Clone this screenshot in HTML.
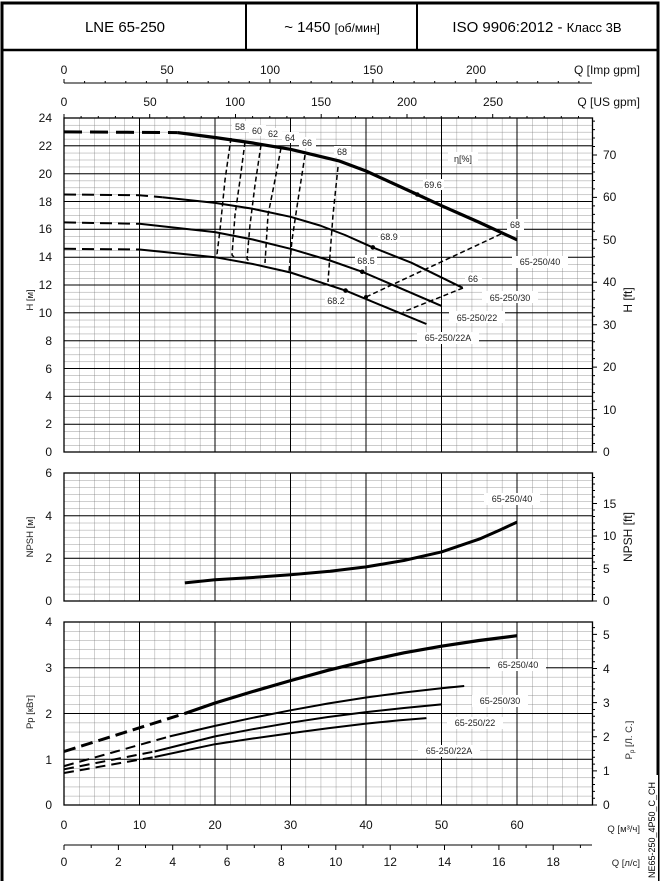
<!DOCTYPE html>
<html><head><meta charset="utf-8"><style>
html,body{margin:0;padding:0;background:#fff}
svg{display:block;font-family:"Liberation Sans",sans-serif}
.t{font-size:12px;fill:#111}
.s{font-size:9.5px;fill:#222}
</style></head><body>
<svg width="662" height="881" viewBox="0 0 662 881" xmlns="http://www.w3.org/2000/svg">
<defs>
<pattern id="gH" x="64" y="118" width="15.1" height="6.958" patternUnits="userSpaceOnUse"><path d="M0,0V6.958M0,0H15.1" stroke="#777" stroke-width="0.7" fill="none"/></pattern>
<pattern id="gN" x="64" y="473" width="15.1" height="7.11" patternUnits="userSpaceOnUse"><path d="M0,0V7.11M0,0H15.1" stroke="#777" stroke-width="0.7" fill="none"/></pattern>
<pattern id="gP" x="64" y="622" width="15.1" height="9.15" patternUnits="userSpaceOnUse"><path d="M0,0V9.15M0,0H15.1" stroke="#777" stroke-width="0.7" fill="none"/></pattern>
</defs>
<path d="M2,881V3H658V881" fill="none" stroke="#000" stroke-width="3"/>
<line x1="2" y1="50" x2="658" y2="50" stroke="#000" stroke-width="2.5"/>
<line x1="246" y1="3" x2="246" y2="50" stroke="#000" stroke-width="2"/>
<line x1="417" y1="3" x2="417" y2="50" stroke="#000" stroke-width="2"/>
<text x="125" y="32" text-anchor="middle" style="font-size:15px">LNE 65-250</text>
<text x="332" y="32" text-anchor="middle" style="font-size:15px">~ 1450 <tspan style="font-size:12px">[об/мин]</tspan></text>
<text x="537" y="32" text-anchor="middle" style="font-size:15px">ISO 9906:2012 - <tspan style="font-size:13px">Класс 3B</tspan></text>

<line x1="64" y1="83" x2="592" y2="83" stroke="#000" stroke-width="1"/>
<g stroke="#000" stroke-width="1">
<path d="M64,83v-4M84.6,83v-2M105.2,83v-2M125.8,83v-2M146.4,83v-2M167,83v-4M187.6,83v-2M208.2,83v-2M228.8,83v-2M249.3,83v-2M269.9,83v-4M290.5,83v-2M311.1,83v-2M331.7,83v-2M352.3,83v-2M372.9,83v-4M393.5,83v-2M414.1,83v-2M434.7,83v-2M455.3,83v-2M475.9,83v-4M496.5,83v-2M517.1,83v-2M537.7,83v-2M558.3,83v-2M578.9,83v-2"/>
<path d="M64,118v-4M81.1,118v-2M98.3,118v-2M115.4,118v-2M132.6,118v-2M149.7,118v-4M166.9,118v-2M184,118v-2M201.2,118v-2M218.3,118v-2M235.5,118v-4M252.6,118v-2M269.8,118v-2M286.9,118v-2M304.1,118v-2M321.2,118v-4M338.4,118v-2M355.5,118v-2M372.7,118v-2M389.8,118v-2M407,118v-4M424.1,118v-2M441.3,118v-2M458.4,118v-2M475.6,118v-2M492.7,118v-4M509.9,118v-2M527,118v-2M544.2,118v-2M561.3,118v-2M578.5,118v-2"/>
</g>
<g class="t" text-anchor="middle">
<text x="64" y="74">0</text><text x="167" y="74">50</text><text x="270" y="74">100</text><text x="373" y="74">150</text><text x="476" y="74">200</text>
<text x="64" y="106">0</text><text x="150" y="106">50</text><text x="235" y="106">100</text><text x="321" y="106">150</text><text x="407" y="106">200</text><text x="493" y="106">250</text>
</g>
<text x="640" y="74" text-anchor="end" class="t">Q [Imp gpm]</text>
<text x="640" y="106" text-anchor="end" class="t">Q [US gpm]</text>

<rect x="64" y="118" width="528.5" height="334" fill="url(#gH)"/>
<g stroke="#000" stroke-width="1">
<path d="M139.5,118V452M215,118V452M290.5,118V452M366,118V452M441.5,118V452M517,118V452"/>
<path d="M64,145.8H592M64,173.7H592M64,201.5H592M64,229.3H592M64,257.2H592M64,285H592M64,312.8H592M64,340.7H592M64,368.5H592M64,396.3H592M64,424.2H592"/>
</g>
<rect x="64" y="118" width="528.5" height="334" fill="none" stroke="#000" stroke-width="1.3"/>
<g class="t" text-anchor="end">
<text x="52" y="122">24</text><text x="52" y="150">22</text><text x="52" y="178">20</text><text x="52" y="206">18</text><text x="52" y="233">16</text><text x="52" y="261">14</text><text x="52" y="289">12</text><text x="52" y="317">10</text><text x="52" y="345">8</text><text x="52" y="373">6</text><text x="52" y="400">4</text><text x="52" y="428">2</text><text x="52" y="456">0</text>
</g>
<g class="t">
<text x="603" y="159">70</text><text x="603" y="201">60</text><text x="603" y="244">50</text><text x="603" y="286">40</text><text x="603" y="329">30</text><text x="603" y="371">20</text><text x="603" y="414">10</text><text x="603" y="456">0</text>
</g>
<g stroke="#000" stroke-width="1"><path d="M592,155h5M592,197.4h5M592,239.8h5M592,282.3h5M592,324.7h5M592,367.1h5M592,409.6h5M592,452h5M592,163.5h3M592,172h3M592,180.5h3M592,188.9h3M592,205.9h3M592,214.4h3M592,222.8h3M592,231.3h3M592,248.3h3M592,256.8h3M592,265.3h3M592,273.8h3M592,290.7h3M592,299.2h3M592,307.7h3M592,316.2h3M592,333.2h3M592,341.7h3M592,350.1h3M592,358.6h3M592,375.6h3M592,384.1h3M592,392.6h3M592,401.1h3M592,418.1h3M592,426.5h3M592,435h3M592,443.5h3M592,146.5h3M592,138h3M592,129.6h3M592,121.1h3"/></g>
<text transform="translate(33,300) rotate(-90)" text-anchor="middle" class="s">H [м]</text>
<text transform="translate(632,300) rotate(-90)" text-anchor="middle" class="t">H [ft]</text>

<g fill="none" stroke="#000" stroke-linecap="butt">
<path d="M64,131.9L177.3,132.6" stroke-width="3" stroke-dasharray="18,8"/>
<path d="M177.3,132.6L215,137.5L252.8,143L290.5,149.3L339.6,161.1L366,171L417.3,194.5L441.5,205.7L479.3,222.4L517,239.8" stroke-width="3.2" stroke-linejoin="round"/>
<path d="M64,194.5L139.5,195.2L162.2,197.3" stroke-width="2" stroke-dasharray="12,6"/>
<path d="M162.2,197.3L215,202.9L252.8,208.8L290.5,216.8L320,225.5L345,235L372.8,247.4L411.3,262.7L462.6,287.8" stroke-width="2" stroke-linejoin="round"/>
<path d="M64,222.4L139.5,223.8" stroke-width="2" stroke-dasharray="12,6"/>
<path d="M139.5,223.8L215,232.1L252.8,239.5L290.5,248.8L330,260.5L362.2,271.8L441.5,305.9" stroke-width="2" stroke-linejoin="round"/>
<path d="M64,248.8L139.5,249.5" stroke-width="2" stroke-dasharray="12,6"/>
<path d="M139.5,249.5L215,257.2L252.8,264L290.5,272.5L345.6,290.6L426.4,324" stroke-width="2" stroke-linejoin="round"/>
</g>
<g fill="#000"><circle cx="417.3" cy="194.5" r="2.3"/><circle cx="372.8" cy="247.4" r="2.3"/><circle cx="362.2" cy="271.8" r="2.3"/><circle cx="345.6" cy="290.6" r="2.3"/><circle cx="366" cy="297" r="2"/></g>
<g fill="none" stroke="#000" stroke-width="1.5" stroke-dasharray="5,3">
<path d="M231,138L225,180L220,230L217,254L219,256"/>
<path d="M245,142L240,180L235,215L232,255L234,257"/>
<path d="M261,145L255,185L250,225L247,259L249,261"/>
<path d="M281,148L274,185L268,215L265,263"/>
<path d="M305,155L298,200L292,240L289,272"/>
<path d="M338,167L333,215L330,255L328,282"/>
<path d="M501,234L366,297"/>
<path d="M463,288L403,312"/>
</g>
<g class="s" text-anchor="middle" style="font-size:9px">
<rect x="232" y="121" width="17" height="11" fill="#fff"/><text x="240" y="130">58</text>
<rect x="249" y="125" width="17" height="11" fill="#fff"/><text x="257" y="134">60</text>
<rect x="265" y="128" width="17" height="11" fill="#fff"/><text x="273" y="137">62</text>
<rect x="282" y="132" width="17" height="11" fill="#fff"/><text x="290" y="141">64</text>
<rect x="299" y="137" width="17" height="11" fill="#fff"/><text x="307" y="146">66</text>
<rect x="334" y="146" width="17" height="11" fill="#fff"/><text x="342" y="155">68</text>
<rect x="448" y="152" width="30" height="12" fill="#fff"/><text x="463" y="162">η[%]</text>
<rect x="423" y="179" width="21" height="11" fill="#fff"/><text x="433" y="188">69.6</text>
<rect x="507" y="219" width="17" height="11" fill="#fff"/><text x="515" y="228">68</text>
<rect x="378" y="231" width="22" height="11" fill="#fff"/><text x="389" y="240">68.9</text>
<rect x="355" y="255" width="22" height="11" fill="#fff"/><text x="366" y="264">68.5</text>
<rect x="325" y="295" width="22" height="11" fill="#fff"/><text x="336" y="304">68.2</text>
<rect x="465" y="273" width="17" height="11" fill="#fff"/><text x="473" y="282">66</text>
<rect x="512" y="256" width="56" height="12" fill="#fff"/><text x="540" y="265">65-250/40</text>
<rect x="482" y="291" width="56" height="12" fill="#fff"/><text x="510" y="301">65-250/30</text>
<rect x="449" y="311" width="56" height="12" fill="#fff"/><text x="477" y="321">65-250/22</text>
<rect x="417" y="332" width="62" height="12" fill="#fff"/><text x="448" y="341">65-250/22A</text>
</g>

<rect x="64" y="473" width="528.5" height="128" fill="url(#gN)"/>
<g stroke="#000" stroke-width="1">
<path d="M139.5,473V601M215,473V601M290.5,473V601M366,473V601M441.5,473V601M517,473V601"/>
<path d="M64,515.7H592M64,558.3H592"/>
</g>
<rect x="64" y="473" width="528.5" height="128" fill="none" stroke="#000" stroke-width="1.3"/>
<g class="t" text-anchor="end"><text x="52" y="477">6</text><text x="52" y="520">4</text><text x="52" y="562">2</text><text x="52" y="605">0</text></g>
<g class="t"><text x="603" y="508">15</text><text x="603" y="540">10</text><text x="603" y="573">5</text><text x="603" y="605">0</text></g>
<g stroke="#000"><path d="M592,503.5h5M592,536h5M592,568.5h5M592,601h5M592,594.5h3M592,588h3M592,581.5h3M592,575h3M592,562h3M592,555.5h3M592,549h3M592,542.5h3M592,529.5h3M592,523h3M592,516.5h3M592,510h3M592,497h3M592,490.5h3M592,484h3M592,477.5h3"/></g>
<text transform="translate(33,537) rotate(-90)" text-anchor="middle" class="s">NPSH [м]</text>
<text transform="translate(632,537) rotate(-90)" text-anchor="middle" class="t">NPSH [ft]</text>
<path d="M184.8,582.9L215,579.7L252.8,577.5L290.5,574.8L330,571.3L366,566.9L403.8,560.5L441.5,551.9L479.3,539.1L500,530L517,522.1" fill="none" stroke="#000" stroke-width="3" stroke-linejoin="round"/>
<rect x="484" y="493" width="56" height="12" fill="#fff"/><text x="512" y="502" text-anchor="middle" class="s" style="font-size:9px">65-250/40</text>

<rect x="64" y="622" width="528.5" height="183" fill="url(#gP)"/>
<g stroke="#000" stroke-width="1">
<path d="M139.5,622V805M215,622V805M290.5,622V805M366,622V805M441.5,622V805M517,622V805"/>
<path d="M64,667.8H592M64,713.5H592M64,759.3H592"/>
</g>
<rect x="64" y="622" width="528.5" height="183" fill="none" stroke="#000" stroke-width="1.3"/>
<g class="t" text-anchor="end"><text x="52" y="626">4</text><text x="52" y="672">3</text><text x="52" y="718">2</text><text x="52" y="764">1</text><text x="52" y="809">0</text></g>
<g class="t"><text x="603" y="639">5</text><text x="603" y="673">4</text><text x="603" y="707">3</text><text x="603" y="741">2</text><text x="603" y="775">1</text><text x="603" y="809">0</text></g>
<g stroke="#000"><path d="M592,634.4h5M592,668.5h5M592,702.6h5M592,736.8h5M592,770.9h5M592,805h5M592,798.2h3M592,791.4h3M592,784.5h3M592,777.7h3M592,764.1h3M592,757.2h3M592,750.4h3M592,743.6h3M592,730h3M592,723.1h3M592,716.3h3M592,709.5h3M592,695.8h3M592,689h3M592,682.2h3M592,675.3h3M592,661.7h3M592,654.9h3M592,648h3M592,641.2h3M592,627.6h3"/></g>
<text transform="translate(33,712) rotate(-90)" text-anchor="middle" class="s">Pp [кВт]</text>
<text transform="translate(632,740) rotate(-90)" text-anchor="middle" class="s">P<tspan style="font-size:6px" dy="2">p</tspan><tspan dy="-2"> [Л. С.]</tspan></text>
<g fill="none" stroke="#000" stroke-linejoin="round">
<path d="M64,751.5L184.8,713.5" stroke-width="3" stroke-dasharray="12,6"/>
<path d="M184.8,713.5L215,703L252.8,691.5L290.5,680.6L328,670.3L366,660.9L404,652.8L441.5,646.2L479,640.5L517,635.7" stroke-width="3.2"/>
<path d="M64,766.1L169.7,736.4" stroke-width="2" stroke-dasharray="10,6"/>
<path d="M169.7,736.4L215,725.9L252.8,717.8L290.5,710.3L328,703.5L366,697.5L404,692.5L441.5,688.3L464.2,686" stroke-width="2"/>
<path d="M64,769.3L154.6,751.5" stroke-width="2" stroke-dasharray="10,6"/>
<path d="M154.6,751.5L215,736.4L252.8,729.2L290.5,722.7L328,717L366,712.1L404,708L441.5,704.4" stroke-width="2"/>
<path d="M64,773L154.6,757" stroke-width="2" stroke-dasharray="10,6"/>
<path d="M154.6,757L215,744.2L252.8,738.5L290.5,733.2L328,728.2L366,723.6L400,720.3L426.4,718.1" stroke-width="2"/>
</g>
<g class="s" text-anchor="middle" style="font-size:9px">
<rect x="490" y="659" width="56" height="12" fill="#fff"/><text x="518" y="668">65-250/40</text>
<rect x="472" y="695" width="56" height="12" fill="#fff"/><text x="500" y="704">65-250/30</text>
<rect x="447" y="717" width="56" height="12" fill="#fff"/><text x="475" y="726">65-250/22</text>
<rect x="418" y="745" width="62" height="12" fill="#fff"/><text x="449" y="754">65-250/22A</text>
</g>

<g class="t" text-anchor="middle">
<text x="64" y="829">0</text><text x="139.5" y="829">10</text><text x="215" y="829">20</text><text x="290.5" y="829">30</text><text x="366" y="829">40</text><text x="441.5" y="829">50</text><text x="517" y="829">60</text>
</g>
<text x="640" y="832" text-anchor="end" class="s">Q [м³/ч]</text>
<line x1="64" y1="845" x2="592" y2="845" stroke="#000"/>
<g stroke="#000"><path d="M64,845v5M91.2,845v3M118.4,845v5M145.5,845v3M172.7,845v5M199.9,845v3M227.1,845v5M254.3,845v3M281.4,845v5M308.6,845v3M335.8,845v5M363,845v3M390.2,845v5M417.3,845v3M444.5,845v5M471.7,845v3M498.9,845v5M526.1,845v3M553.2,845v5M580.4,845v3"/></g>
<g class="t" text-anchor="middle">
<text x="64" y="866">0</text><text x="118.4" y="866">2</text><text x="172.7" y="866">4</text><text x="227.1" y="866">6</text><text x="281.4" y="866">8</text><text x="335.8" y="866">10</text><text x="390.2" y="866">12</text><text x="444.5" y="866">14</text><text x="498.9" y="866">16</text><text x="553.2" y="866">18</text>
</g>
<text x="640" y="866" text-anchor="end" class="s">Q [л/с]</text>
<rect x="645" y="775" width="13" height="106" fill="#fff"/>
<text transform="translate(655,830) rotate(-90)" text-anchor="middle" style="font-size:9px">NE65-250_4P50_C_CH</text>
</svg>
</body></html>
